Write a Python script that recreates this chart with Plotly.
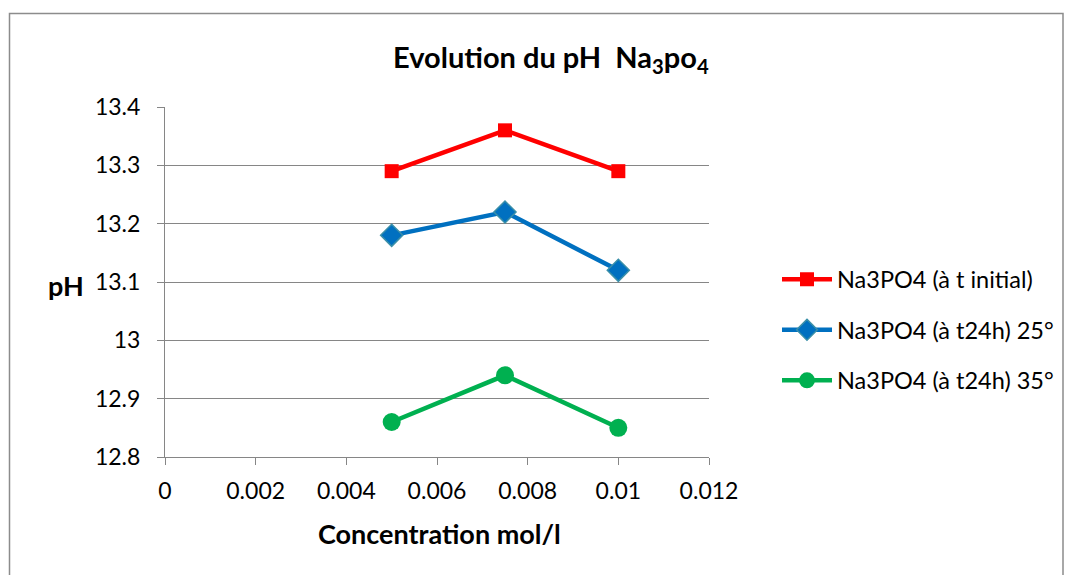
import plotly.graph_objects as go

conc = [0.005, 0.0075, 0.01]
ph_initial = [13.29, 13.36, 13.29]
ph_24h_25 = [13.18, 13.22, 13.12]
ph_24h_35 = [12.86, 12.94, 12.85]
series_names = ["Na3PO4 (à t initial)", "Na3PO4 (à t24h) 25°", "Na3PO4 (à t24h) 35°"]
x_ticks = [0, 0.002, 0.004, 0.006, 0.008, 0.01, 0.012]
x_ticklabels = ["0", "0.002", "0.004", "0.006", "0.008", "0.01", "0.012"]
y_ticks = [12.8, 12.9, 13.0, 13.1, 13.2, 13.3, 13.4]
y_ticklabels = ["12.8", "12.9", "13", "13.1", "13.2", "13.3", "13.4"]

FONT = "Lato, Carlito, Calibri, sans-serif"
fig = go.Figure()
fig.add_trace(go.Scatter(x=conc, y=ph_initial, name=series_names[0], mode="lines+markers",
                         legendgroup="a",
                         line=dict(color="#FF0000", width=4.5),
                         marker=dict(symbol="square", size=14, color="#FF0000")))
fig.add_trace(go.Scatter(x=conc, y=ph_24h_25, name=series_names[1], mode="lines+markers",
                         legendgroup="b",
                         line=dict(color="#0070C0", width=4.5),
                         marker=dict(symbol="diamond", size=17, color="#0070C0",
                                     line=dict(color="#3A8FA8", width=1.5))))
fig.add_trace(go.Scatter(x=conc, y=ph_24h_35, name=series_names[2], mode="lines+markers",
                         legendgroup="c",
                         line=dict(color="#00B050", width=4.5),
                         marker=dict(symbol="circle", size=18, color="#00B050")))

fig.update_layout(
    width=1071, height=575,
    margin=dict(l=165, r=362, t=107, b=118, autoexpand=False),
    paper_bgcolor="white", plot_bgcolor="white",
    font=dict(family=FONT, size=23, color="black"),
    showlegend=True,
    legend=dict(x=1.125, y=0.363, xanchor="left", yanchor="middle",
                font=dict(family=FONT, size=23.5, color="black"),
                tracegroupgap=17, itemwidth=50, bgcolor="rgba(0,0,0,0)"),
    xaxis=dict(range=[0, 0.012], tickvals=x_ticks, ticktext=x_ticklabels,
               showgrid=False, zeroline=False, showline=True, linecolor="#868686",
               linewidth=1, ticks="outside", ticklen=7, tickcolor="#868686",
               ticklabelstandoff=6,
               tickfont=dict(family=FONT, size=23, color="black")),
    yaxis=dict(range=[12.8, 13.4], tickvals=y_ticks, ticktext=y_ticklabels,
               showgrid=True, gridcolor="#868686", gridwidth=1, zeroline=False,
               showline=True, linecolor="#868686", linewidth=1,
               ticks="outside", ticklen=7, tickcolor="#868686",
               ticklabelstandoff=12,
               tickfont=dict(family=FONT, size=23, color="black")),
    annotations=[
        dict(text="<b>Evolution du pH  Na<sub>3</sub>po<sub>4</sub></b>", xref="paper", yref="paper",
             x=(551 - 165) / 544, y=(457 - 58) / 350, xanchor="center", yanchor="middle",
             showarrow=False, font=dict(family=FONT, size=29, color="black")),
        dict(text="<b>Concentration mol/l</b>", xref="paper", yref="paper",
             x=(439 - 165) / 544, y=(457 - 533) / 350, xanchor="center", yanchor="middle",
             showarrow=False, font=dict(family=FONT, size=27, color="black")),
        dict(text="<b>pH</b>", xref="paper", yref="paper",
             x=(66 - 165) / 544, y=(457 - 285) / 350, xanchor="center", yanchor="middle",
             showarrow=False, font=dict(family=FONT, size=27, color="black")),
    ],
    shapes=[dict(type="rect", xref="paper", yref="paper",
                 x0=(9.5 - 165) / 544, x1=(1063 - 165) / 544,
                 y0=(457 - 585) / 350, y1=(457 - 13.5) / 350,
                 line=dict(color="#8C8C8C", width=1.5), fillcolor="rgba(0,0,0,0)", layer="below")],
)

fig.write_html("out.html")
